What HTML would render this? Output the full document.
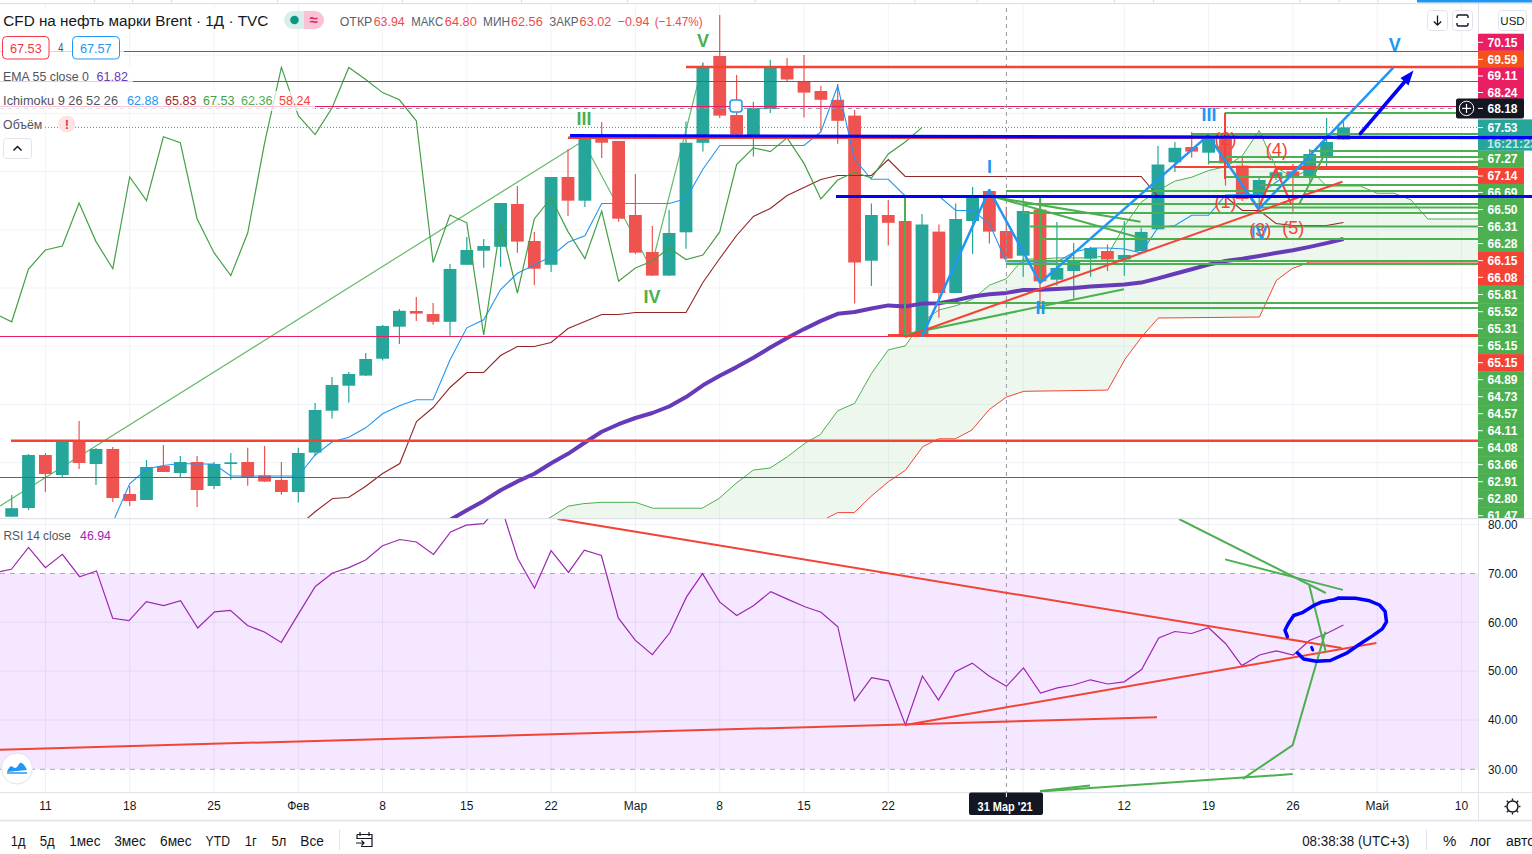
<!DOCTYPE html>
<html><head><meta charset="utf-8"><style>
*{margin:0;padding:0;box-sizing:border-box}
html,body{width:1532px;height:854px;overflow:hidden;background:#fff;font-family:"Liberation Sans",sans-serif;color:#131722}
#wrap{position:relative;width:1532px;height:854px}
svg{position:absolute;left:0;top:0}
.t{position:absolute;white-space:nowrap}
</style></head><body><div id="wrap">

<svg width="1532" height="854" viewBox="0 0 1532 854" style="font-family:'Liberation Sans',sans-serif">
<defs><clipPath id="cm"><rect x="0" y="4" width="1478" height="514"/></clipPath><clipPath id="cax"><rect x="1478" y="4" width="54" height="514"/></clipPath><clipPath id="cr"><rect x="0" y="519" width="1478" height="273"/></clipPath></defs>
<g clip-path="url(#cm)">
<line x1="45.4" y1="0" x2="45.4" y2="518" stroke="#f0f3fa" stroke-width="1"/>
<line x1="129.7" y1="0" x2="129.7" y2="518" stroke="#f0f3fa" stroke-width="1"/>
<line x1="214" y1="0" x2="214" y2="518" stroke="#f0f3fa" stroke-width="1"/>
<line x1="298.3" y1="0" x2="298.3" y2="518" stroke="#f0f3fa" stroke-width="1"/>
<line x1="382.6" y1="0" x2="382.6" y2="518" stroke="#f0f3fa" stroke-width="1"/>
<line x1="466.8" y1="0" x2="466.8" y2="518" stroke="#f0f3fa" stroke-width="1"/>
<line x1="551.1" y1="0" x2="551.1" y2="518" stroke="#f0f3fa" stroke-width="1"/>
<line x1="635.4" y1="0" x2="635.4" y2="518" stroke="#f0f3fa" stroke-width="1"/>
<line x1="719.7" y1="0" x2="719.7" y2="518" stroke="#f0f3fa" stroke-width="1"/>
<line x1="804" y1="0" x2="804" y2="518" stroke="#f0f3fa" stroke-width="1"/>
<line x1="888.3" y1="0" x2="888.3" y2="518" stroke="#f0f3fa" stroke-width="1"/>
<line x1="1023.2" y1="0" x2="1023.2" y2="518" stroke="#f0f3fa" stroke-width="1"/>
<line x1="1124.3" y1="0" x2="1124.3" y2="518" stroke="#f0f3fa" stroke-width="1"/>
<line x1="1208.6" y1="0" x2="1208.6" y2="518" stroke="#f0f3fa" stroke-width="1"/>
<line x1="1292.9" y1="0" x2="1292.9" y2="518" stroke="#f0f3fa" stroke-width="1"/>
<line x1="1377.2" y1="0" x2="1377.2" y2="518" stroke="#f0f3fa" stroke-width="1"/>
<line x1="1461.5" y1="0" x2="1461.5" y2="518" stroke="#f0f3fa" stroke-width="1"/>
<line x1="0" y1="55.2" x2="1478" y2="55.2" stroke="#f0f3fa" stroke-width="1"/>
<line x1="0" y1="113.4" x2="1478" y2="113.4" stroke="#f0f3fa" stroke-width="1"/>
<line x1="0" y1="171.6" x2="1478" y2="171.6" stroke="#f0f3fa" stroke-width="1"/>
<line x1="0" y1="229.8" x2="1478" y2="229.8" stroke="#f0f3fa" stroke-width="1"/>
<line x1="0" y1="288" x2="1478" y2="288" stroke="#f0f3fa" stroke-width="1"/>
<line x1="0" y1="346.2" x2="1478" y2="346.2" stroke="#f0f3fa" stroke-width="1"/>
<line x1="0" y1="404.4" x2="1478" y2="404.4" stroke="#f0f3fa" stroke-width="1"/>
<line x1="0" y1="462.6" x2="1478" y2="462.6" stroke="#f0f3fa" stroke-width="1"/>
<polygon points="545,520 549.8,517.7 568.3,506.1 583.8,503.6 601.8,502.3 635.3,502.3 652.9,508.2 702.3,508.2 719.1,498.4 735.8,483.5 753.3,470.1 770.1,468 787.4,456.7 805.4,443 820.3,434.5 837.6,410.8 854.6,403.4 871.4,373.5 888.3,349.9 905.2,345.9 922,322.2 938.9,309.9 955.7,305.8 972.6,299.2 989.4,285.2 1006.3,278.7 1023.2,259 1040,259 1056.9,257.9 1073.7,257.9 1090.6,257.9 1107.5,255.4 1124.3,225.9 1141.2,202.2 1158,190.5 1174.9,181.1 1191.7,177.2 1208.6,170.5 1225.5,166.7 1242.3,155.7 1259.2,130.6 1276,167.3 1292.9,177.3 1309.7,169.3 1326.6,186 1343.5,186 1360.3,186 1377.2,193.2 1394,193.2 1410.9,199.8 1427.8,219 1444.6,219 1461.5,219 1478.3,219 1478,262 1309.7,262.1 1292.3,268.5 1276.4,280.4 1259.4,317 1158.3,318 1142.4,336 1125.1,359.1 1107.7,390.1 1023.9,391.3 1006.5,397 989.1,409.7 971.7,430.2 955.3,438.8 938.5,438.8 922.7,446.7 905.3,470.4 888.4,481.7 871.1,496.3 854.3,512.6 837.6,512.6 823.4,520 545,520" fill="rgba(76,175,80,0.1)"/>
<polyline points="545,520 823.4,520 837.6,512.6 854.3,512.6 871.1,496.3 888.4,481.7 905.3,470.4 922.7,446.7 938.5,438.8 955.3,438.8 971.7,430.2 989.1,409.7 1006.5,397 1023.9,391.3 1107.7,390.1 1125.1,359.1 1142.4,336 1158.3,318 1259.4,317 1276.4,280.4 1292.3,268.5 1309.7,262.1 1478,262" fill="none" stroke="#f44336" stroke-width="1"/>
<polyline points="545,520 549.8,517.7 568.3,506.1 583.8,503.6 601.8,502.3 635.3,502.3 652.9,508.2 702.3,508.2 719.1,498.4 735.8,483.5 753.3,470.1 770.1,468 787.4,456.7 805.4,443 820.3,434.5 837.6,410.8 854.6,403.4 871.4,373.5 888.3,349.9 905.2,345.9 922,322.2 938.9,309.9 955.7,305.8 972.6,299.2 989.4,285.2 1006.3,278.7 1023.2,259 1040,259 1056.9,257.9 1073.7,257.9 1090.6,257.9 1107.5,255.4 1124.3,225.9 1141.2,202.2 1158,190.5 1174.9,181.1 1191.7,177.2 1208.6,170.5 1225.5,166.7 1242.3,155.7 1259.2,130.6 1276,167.3 1292.9,177.3 1309.7,169.3 1326.6,186 1343.5,186 1360.3,186 1377.2,193.2 1394,193.2 1410.9,199.8 1427.8,219 1444.6,219 1461.5,219 1478.3,219" fill="none" stroke="#4caf50" stroke-width="1"/>
<polyline points="0,506 583,141 651,268 703,63" fill="none" stroke="#66bb6a" stroke-width="1.2"/>
<line x1="11.7" y1="495" x2="11.7" y2="517" stroke="#26a69a" stroke-width="1.2"/>
<rect x="5.3" y="508.2" width="12.8" height="8.5" fill="#26a69a"/>
<line x1="28.5" y1="454" x2="28.5" y2="510" stroke="#26a69a" stroke-width="1.2"/>
<rect x="22.1" y="455" width="12.8" height="53" fill="#26a69a"/>
<line x1="45.4" y1="453" x2="45.4" y2="492" stroke="#ef5350" stroke-width="1.2"/>
<rect x="39" y="455" width="12.8" height="19" fill="#ef5350"/>
<line x1="62.3" y1="440" x2="62.3" y2="477" stroke="#26a69a" stroke-width="1.2"/>
<rect x="55.9" y="441" width="12.8" height="34" fill="#26a69a"/>
<line x1="79.1" y1="421" x2="79.1" y2="469" stroke="#ef5350" stroke-width="1.2"/>
<rect x="72.7" y="441" width="12.8" height="22" fill="#ef5350"/>
<line x1="96" y1="448" x2="96" y2="485" stroke="#26a69a" stroke-width="1.2"/>
<rect x="89.6" y="449" width="12.8" height="15" fill="#26a69a"/>
<line x1="112.8" y1="447" x2="112.8" y2="502" stroke="#ef5350" stroke-width="1.2"/>
<rect x="106.4" y="449" width="12.8" height="49" fill="#ef5350"/>
<line x1="129.7" y1="486" x2="129.7" y2="506" stroke="#ef5350" stroke-width="1.2"/>
<rect x="123.3" y="494" width="12.8" height="7" fill="#ef5350"/>
<line x1="146.5" y1="460" x2="146.5" y2="500" stroke="#26a69a" stroke-width="1.2"/>
<rect x="140.1" y="467" width="12.8" height="33" fill="#26a69a"/>
<line x1="163.4" y1="445" x2="163.4" y2="472" stroke="#ef5350" stroke-width="1.2"/>
<rect x="157" y="466" width="12.8" height="6" fill="#ef5350"/>
<line x1="180.3" y1="456" x2="180.3" y2="477" stroke="#26a69a" stroke-width="1.2"/>
<rect x="173.9" y="462" width="12.8" height="11" fill="#26a69a"/>
<line x1="197.1" y1="456" x2="197.1" y2="507" stroke="#ef5350" stroke-width="1.2"/>
<rect x="190.7" y="462" width="12.8" height="28" fill="#ef5350"/>
<line x1="214" y1="462" x2="214" y2="489" stroke="#26a69a" stroke-width="1.2"/>
<rect x="207.6" y="464" width="12.8" height="22" fill="#26a69a"/>
<line x1="230.8" y1="453" x2="230.8" y2="479.7" stroke="#26a69a" stroke-width="1.2"/>
<rect x="224.4" y="462.3" width="12.8" height="1.7" fill="#26a69a"/>
<line x1="247.7" y1="447.7" x2="247.7" y2="485.7" stroke="#ef5350" stroke-width="1.2"/>
<rect x="241.3" y="462" width="12.8" height="15" fill="#ef5350"/>
<line x1="264.6" y1="446" x2="264.6" y2="482" stroke="#ef5350" stroke-width="1.2"/>
<rect x="258.2" y="475.4" width="12.8" height="6.2" fill="#ef5350"/>
<line x1="281.4" y1="462" x2="281.4" y2="494.8" stroke="#ef5350" stroke-width="1.2"/>
<rect x="275" y="480" width="12.8" height="12" fill="#ef5350"/>
<line x1="298.3" y1="447.7" x2="298.3" y2="502.6" stroke="#26a69a" stroke-width="1.2"/>
<rect x="291.9" y="453" width="12.8" height="39" fill="#26a69a"/>
<line x1="315.1" y1="403" x2="315.1" y2="456" stroke="#26a69a" stroke-width="1.2"/>
<rect x="308.7" y="410" width="12.8" height="42.6" fill="#26a69a"/>
<line x1="332" y1="377" x2="332" y2="418.5" stroke="#26a69a" stroke-width="1.2"/>
<rect x="325.6" y="385" width="12.8" height="25.7" fill="#26a69a"/>
<line x1="348.8" y1="372" x2="348.8" y2="402.6" stroke="#26a69a" stroke-width="1.2"/>
<rect x="342.4" y="374" width="12.8" height="11.7" fill="#26a69a"/>
<line x1="365.7" y1="353" x2="365.7" y2="376" stroke="#26a69a" stroke-width="1.2"/>
<rect x="359.3" y="359" width="12.8" height="16.6" fill="#26a69a"/>
<line x1="382.6" y1="325" x2="382.6" y2="360.6" stroke="#26a69a" stroke-width="1.2"/>
<rect x="376.2" y="326" width="12.8" height="32.7" fill="#26a69a"/>
<line x1="399.4" y1="309" x2="399.4" y2="344" stroke="#26a69a" stroke-width="1.2"/>
<rect x="393" y="310.8" width="12.8" height="15.9" fill="#26a69a"/>
<line x1="416.3" y1="297" x2="416.3" y2="321" stroke="#ef5350" stroke-width="1.2"/>
<rect x="409.9" y="311" width="12.8" height="2.6" fill="#ef5350"/>
<line x1="433.1" y1="303" x2="433.1" y2="324.8" stroke="#ef5350" stroke-width="1.2"/>
<rect x="426.7" y="314" width="12.8" height="7.8" fill="#ef5350"/>
<line x1="450" y1="264" x2="450" y2="335.7" stroke="#26a69a" stroke-width="1.2"/>
<rect x="443.6" y="269" width="12.8" height="52.8" fill="#26a69a"/>
<line x1="466.8" y1="237" x2="466.8" y2="265" stroke="#26a69a" stroke-width="1.2"/>
<rect x="460.4" y="250" width="12.8" height="14.8" fill="#26a69a"/>
<line x1="483.7" y1="239" x2="483.7" y2="267.7" stroke="#26a69a" stroke-width="1.2"/>
<rect x="477.3" y="246" width="12.8" height="4.7" fill="#26a69a"/>
<line x1="500.6" y1="203" x2="500.6" y2="267" stroke="#26a69a" stroke-width="1.2"/>
<rect x="494.2" y="203" width="12.8" height="43.8" fill="#26a69a"/>
<line x1="517.4" y1="186" x2="517.4" y2="252.7" stroke="#ef5350" stroke-width="1.2"/>
<rect x="511" y="204" width="12.8" height="37.6" fill="#ef5350"/>
<line x1="534.3" y1="232" x2="534.3" y2="285" stroke="#ef5350" stroke-width="1.2"/>
<rect x="527.9" y="241" width="12.8" height="27.7" fill="#ef5350"/>
<line x1="551.1" y1="177" x2="551.1" y2="272" stroke="#26a69a" stroke-width="1.2"/>
<rect x="544.7" y="177" width="12.8" height="87.8" fill="#26a69a"/>
<line x1="568" y1="149" x2="568" y2="215.9" stroke="#ef5350" stroke-width="1.2"/>
<rect x="561.6" y="177" width="12.8" height="23.7" fill="#ef5350"/>
<line x1="584.9" y1="136" x2="584.9" y2="206.9" stroke="#26a69a" stroke-width="1.2"/>
<rect x="578.5" y="136.8" width="12.8" height="63.9" fill="#26a69a"/>
<line x1="601.7" y1="122" x2="601.7" y2="157.9" stroke="#ef5350" stroke-width="1.2"/>
<rect x="595.3" y="137.5" width="12.8" height="5.2" fill="#ef5350"/>
<line x1="618.6" y1="141" x2="618.6" y2="221.8" stroke="#ef5350" stroke-width="1.2"/>
<rect x="612.2" y="141" width="12.8" height="77.7" fill="#ef5350"/>
<line x1="635.4" y1="174" x2="635.4" y2="254" stroke="#ef5350" stroke-width="1.2"/>
<rect x="629" y="215" width="12.8" height="37.7" fill="#ef5350"/>
<line x1="652.3" y1="226" x2="652.3" y2="276" stroke="#ef5350" stroke-width="1.2"/>
<rect x="645.9" y="252" width="12.8" height="23.6" fill="#ef5350"/>
<line x1="669.1" y1="210" x2="669.1" y2="276" stroke="#26a69a" stroke-width="1.2"/>
<rect x="662.7" y="233" width="12.8" height="42.6" fill="#26a69a"/>
<line x1="686" y1="121.5" x2="686" y2="248.7" stroke="#26a69a" stroke-width="1.2"/>
<rect x="679.6" y="142.8" width="12.8" height="89.5" fill="#26a69a"/>
<line x1="702.9" y1="62.5" x2="702.9" y2="151.6" stroke="#26a69a" stroke-width="1.2"/>
<rect x="696.5" y="67.4" width="12.8" height="75.4" fill="#26a69a"/>
<line x1="719.7" y1="15" x2="719.7" y2="118" stroke="#ef5350" stroke-width="1.2"/>
<rect x="713.3" y="56" width="12.8" height="59.6" fill="#ef5350"/>
<line x1="736.6" y1="75" x2="736.6" y2="134.6" stroke="#ef5350" stroke-width="1.2"/>
<rect x="730.2" y="115" width="12.8" height="19.6" fill="#ef5350"/>
<line x1="753.4" y1="101.8" x2="753.4" y2="156.6" stroke="#26a69a" stroke-width="1.2"/>
<rect x="747" y="108" width="12.8" height="28" fill="#26a69a"/>
<line x1="770.3" y1="59.8" x2="770.3" y2="113" stroke="#26a69a" stroke-width="1.2"/>
<rect x="763.9" y="67.4" width="12.8" height="41.6" fill="#26a69a"/>
<line x1="787.1" y1="58" x2="787.1" y2="82" stroke="#ef5350" stroke-width="1.2"/>
<rect x="780.7" y="67.4" width="12.8" height="12.1" fill="#ef5350"/>
<line x1="804" y1="55" x2="804" y2="117.5" stroke="#ef5350" stroke-width="1.2"/>
<rect x="797.6" y="81.5" width="12.8" height="11.1" fill="#ef5350"/>
<line x1="820.9" y1="85.7" x2="820.9" y2="131" stroke="#ef5350" stroke-width="1.2"/>
<rect x="814.5" y="91" width="12.8" height="8.8" fill="#ef5350"/>
<line x1="837.7" y1="84" x2="837.7" y2="143.7" stroke="#ef5350" stroke-width="1.2"/>
<rect x="831.3" y="99.8" width="12.8" height="21" fill="#ef5350"/>
<line x1="854.6" y1="110" x2="854.6" y2="303.6" stroke="#ef5350" stroke-width="1.2"/>
<rect x="848.2" y="115.6" width="12.8" height="146.9" fill="#ef5350"/>
<line x1="871.4" y1="203.4" x2="871.4" y2="286" stroke="#26a69a" stroke-width="1.2"/>
<rect x="865" y="215" width="12.8" height="45.7" fill="#26a69a"/>
<line x1="888.3" y1="200" x2="888.3" y2="245.6" stroke="#ef5350" stroke-width="1.2"/>
<rect x="881.9" y="215" width="12.8" height="7.8" fill="#ef5350"/>
<line x1="905.2" y1="221" x2="905.2" y2="337" stroke="#ef5350" stroke-width="1.2"/>
<rect x="898.8" y="221" width="12.8" height="114" fill="#ef5350"/>
<line x1="922" y1="214" x2="922" y2="337" stroke="#26a69a" stroke-width="1.2"/>
<rect x="915.6" y="224.5" width="12.8" height="110.5" fill="#26a69a"/>
<line x1="938.9" y1="224.5" x2="938.9" y2="317.7" stroke="#ef5350" stroke-width="1.2"/>
<rect x="932.5" y="231.6" width="12.8" height="61.4" fill="#ef5350"/>
<line x1="955.7" y1="203.4" x2="955.7" y2="293" stroke="#26a69a" stroke-width="1.2"/>
<rect x="949.3" y="219" width="12.8" height="74" fill="#26a69a"/>
<line x1="972.6" y1="187" x2="972.6" y2="254" stroke="#26a69a" stroke-width="1.2"/>
<rect x="966.2" y="198" width="12.8" height="23" fill="#26a69a"/>
<line x1="989.4" y1="189" x2="989.4" y2="243.4" stroke="#ef5350" stroke-width="1.2"/>
<rect x="983" y="191" width="12.8" height="40.6" fill="#ef5350"/>
<line x1="1006.3" y1="206.7" x2="1006.3" y2="258.6" stroke="#ef5350" stroke-width="1.2"/>
<rect x="999.9" y="231" width="12.8" height="27.6" fill="#ef5350"/>
<line x1="1023.2" y1="196.7" x2="1023.2" y2="276.8" stroke="#26a69a" stroke-width="1.2"/>
<rect x="1016.8" y="211" width="12.8" height="44.7" fill="#26a69a"/>
<line x1="1040" y1="197.8" x2="1040" y2="309" stroke="#ef5350" stroke-width="1.2"/>
<rect x="1033.6" y="209.6" width="12.8" height="71.7" fill="#ef5350"/>
<line x1="1056.9" y1="222" x2="1056.9" y2="285.7" stroke="#26a69a" stroke-width="1.2"/>
<rect x="1050.5" y="268" width="12.8" height="11.7" fill="#26a69a"/>
<line x1="1073.7" y1="243" x2="1073.7" y2="298.6" stroke="#26a69a" stroke-width="1.2"/>
<rect x="1067.3" y="261" width="12.8" height="10" fill="#26a69a"/>
<line x1="1090.6" y1="246.8" x2="1090.6" y2="276.8" stroke="#26a69a" stroke-width="1.2"/>
<rect x="1084.2" y="248" width="12.8" height="10.6" fill="#26a69a"/>
<line x1="1107.5" y1="244.5" x2="1107.5" y2="271" stroke="#ef5350" stroke-width="1.2"/>
<rect x="1101" y="251" width="12.8" height="8.5" fill="#ef5350"/>
<line x1="1124.3" y1="221" x2="1124.3" y2="275.7" stroke="#26a69a" stroke-width="1.2"/>
<rect x="1117.9" y="255" width="12.8" height="4.5" fill="#26a69a"/>
<line x1="1141.2" y1="227.9" x2="1141.2" y2="251" stroke="#26a69a" stroke-width="1.2"/>
<rect x="1134.8" y="231.9" width="12.8" height="19.1" fill="#26a69a"/>
<line x1="1158" y1="146" x2="1158" y2="229.3" stroke="#26a69a" stroke-width="1.2"/>
<rect x="1151.6" y="164.5" width="12.8" height="64.8" fill="#26a69a"/>
<line x1="1174.9" y1="142" x2="1174.9" y2="172" stroke="#26a69a" stroke-width="1.2"/>
<rect x="1168.5" y="147.8" width="12.8" height="14.5" fill="#26a69a"/>
<line x1="1191.7" y1="132" x2="1191.7" y2="157.8" stroke="#ef5350" stroke-width="1.2"/>
<rect x="1185.3" y="147" width="12.8" height="4.6" fill="#ef5350"/>
<line x1="1208.6" y1="135.6" x2="1208.6" y2="164.5" stroke="#26a69a" stroke-width="1.2"/>
<rect x="1202.2" y="137.8" width="12.8" height="14.9" fill="#26a69a"/>
<line x1="1225.5" y1="113.3" x2="1225.5" y2="185.6" stroke="#ef5350" stroke-width="1.2"/>
<rect x="1219.1" y="136.7" width="12.8" height="26.7" fill="#ef5350"/>
<line x1="1242.3" y1="156.7" x2="1242.3" y2="201" stroke="#ef5350" stroke-width="1.2"/>
<rect x="1235.9" y="165.6" width="12.8" height="33.4" fill="#ef5350"/>
<line x1="1259.2" y1="178" x2="1259.2" y2="203.4" stroke="#26a69a" stroke-width="1.2"/>
<rect x="1252.8" y="180" width="12.8" height="17.9" fill="#26a69a"/>
<line x1="1276" y1="169" x2="1276" y2="180" stroke="#26a69a" stroke-width="1.2"/>
<rect x="1269.6" y="172.3" width="12.8" height="4.4" fill="#26a69a"/>
<line x1="1292.9" y1="164" x2="1292.9" y2="211.7" stroke="#ef5350" stroke-width="1.2"/>
<rect x="1286.5" y="171.3" width="12.8" height="6.7" fill="#ef5350"/>
<line x1="1309.7" y1="149" x2="1309.7" y2="181.5" stroke="#26a69a" stroke-width="1.2"/>
<rect x="1303.3" y="154" width="12.8" height="24" fill="#26a69a"/>
<line x1="1326.6" y1="118" x2="1326.6" y2="166" stroke="#26a69a" stroke-width="1.2"/>
<rect x="1320.2" y="142" width="12.8" height="14" fill="#26a69a"/>
<line x1="1343.5" y1="121.8" x2="1343.5" y2="139.6" stroke="#26a69a" stroke-width="1.2"/>
<rect x="1337.1" y="127.4" width="12.8" height="12.2" fill="#26a69a"/>
<polyline points="450,519.9 466.8,510.3 483.7,500.9 500.6,490.3 517.4,481.4 534.3,473.8 551.1,463.2 568,453.8 584.9,442.5 601.7,431.8 618.6,424.2 635.4,418 652.3,413 669.1,406.5 686,397.1 702.9,385.3 719.7,375.7 736.6,367.1 753.4,357.8 770.3,347.5 787.1,337.9 804,329.1 820.9,320.9 837.7,313.8 854.6,312 871.4,308.5 888.3,305.4 905.2,306.5 922,303.6 938.9,303.2 955.7,300.2 972.6,296.5 989.4,294.2 1006.3,292.9 1023.2,290 1040,289.7 1056.9,288.9 1073.7,287.9 1090.6,286.5 1107.5,285.5 1124.3,284.5 1141.2,282.6 1158,278.4 1174.9,273.7 1191.7,269.3 1208.6,264.6 1225.5,261 1242.3,258.8 1259.2,256 1276,253 1292.9,250.3 1309.7,246.9 1326.6,243.1 1343.5,239" fill="none" stroke="#673ab7" stroke-width="4" stroke-linejoin="round"/>
<polyline points="304.8,520.5 315.4,511.5 332.6,498.5 348.5,497.5 365.4,486.5 382.6,473.5 399.8,463.5 416.5,421.5 433.1,407.5 450,387.5 466.8,372.5 483.7,372.5 500.6,355.5 517.4,346.5 534.3,346.5 551.1,342.5 568,328.5 584.9,321.5 601.7,314.5 618.6,314.5 635.4,312.5 652.3,312.5 669.1,312.5 686,312.5 702.9,282.5 719.7,258.5 736.6,235.5 753.4,216.5 770.3,208.5 787.1,195.5 804,187.5 820.9,179.5 837.7,175.5 854.6,175.5 871.4,175.5 888.3,159.5 905.2,176.5 922,176.5 938.9,176.5 955.7,176.5 972.6,176.5 989.4,176.5 1006.3,176.5 1023.2,176.5 1040,176.5 1056.9,176.5 1073.7,176.5 1090.6,176.5 1107.5,176.5 1124.3,176.5 1141.2,176.5 1158,196.5 1174.9,196.5 1191.7,196.5 1208.6,196.5 1225.5,196.5 1242.3,210.5 1259.2,210.5 1276,223.5 1292.9,225.5 1309.7,225.5 1326.6,225.5 1343.5,222.5" fill="none" stroke="#922525" stroke-width="1.1"/>
<polyline points="113.8,520 129.7,483.9 146.5,469 163.4,465.5 180.3,463.5 197.1,464 214,464 230.8,476 247.7,476 264.6,476 281.4,476 298.3,476 315.1,455 332,442 348.8,437.3 365.7,427.8 382.6,413.8 399.4,405.8 416.3,399.8 433.1,399.8 450,360 466.8,327.8 483.7,319.8 500.6,289.5 517.4,273.3 534.3,265 551.1,256.4 568,242.3 584.9,235.8 601.7,203.5 618.6,203.5 635.4,203.5 652.3,203.5 669.1,203.5 686,198.8 702.9,169.2 719.7,145.5 736.6,145.5 753.4,145.5 770.3,145.5 787.1,145.5 804,145.5 820.9,131.8 837.7,85.8 854.6,159.3 871.4,179.3 888.3,179.3 905.2,196 922,196 938.9,196 955.7,210.5 972.6,210.5 989.4,223.5 1006.3,262 1023.2,262 1040,262 1056.9,262 1073.7,252.3 1090.6,248 1107.5,248 1124.3,249 1141.2,252.8 1158,227.5 1174.9,225.5 1191.7,215.3 1208.6,215.3 1225.5,195.1 1242.3,194.5 1259.2,194.5 1276,182.2 1292.9,171.3 1309.7,162.5 1326.6,162.5 1343.5,162.5" fill="none" stroke="#2196f3" stroke-width="1.1"/>
<polyline points="-5.2,313.6 11.7,321.8 28.5,269 45.4,250 62.3,246 79.1,203 96,241.6 112.8,268.7 129.7,177 146.5,200.7 163.4,136.8 180.3,142.7 197.1,218.7 214,252.7 230.8,275.6 247.7,233 264.6,142.8 281.4,67.4 298.3,115.6 315.1,134.6 332,108 348.8,67.4 365.7,79.5 382.6,92.6 399.4,99.8 416.3,120.8 433.1,262.5 450,215 466.8,222.8 483.7,335 500.6,224.5 517.4,293 534.3,219 551.1,198 568,231.6 584.9,258.6 601.7,211 618.6,281.3 635.4,268 652.3,261 669.1,248 686,259.5 702.9,255 719.7,231.9 736.6,164.5 753.4,147.8 770.3,151.6 787.1,137.8 804,163.4 820.9,199 837.7,180 854.6,172.3 871.4,178 888.3,154 905.2,142 922,127.4" fill="none" stroke="#43a047" stroke-width="1.2"/>
</g>
<g clip-path="url(#cm)">
<line x1="0" y1="51.5" x2="1478" y2="51.5" stroke="#e91e63" stroke-width="1.1"/>
<line x1="0" y1="81.5" x2="1478" y2="81.5" stroke="#e91e63" stroke-width="1.1"/>
<line x1="0" y1="106.5" x2="1478" y2="106.5" stroke="#e91e63" stroke-width="1.1"/>
<line x1="0" y1="336.5" x2="1478" y2="336.5" stroke="#e91e63" stroke-width="1.1"/>
<line x1="0" y1="477.5" x2="1478" y2="477.5" stroke="#e91e63" stroke-width="1.1"/>
<line x1="0" y1="108.5" x2="1456" y2="108.5" stroke="#9598a1" stroke-width="1" stroke-dasharray="4,4"/>
<line x1="1006.4" y1="0" x2="1006.4" y2="792" stroke="#9598a1" stroke-width="1" stroke-dasharray="4,4"/>
<line x1="0" y1="127.4" x2="1478" y2="127.4" stroke="#26a69a" stroke-width="1" stroke-dasharray="1,2"/>
<line x1="1224.7" y1="113" x2="1456" y2="113" stroke="#4caf50" stroke-width="2.2"/>
<line x1="1191" y1="134" x2="1478" y2="134" stroke="#4caf50" stroke-width="2.2"/>
<line x1="1309.5" y1="151" x2="1478" y2="151" stroke="#4caf50" stroke-width="2.2"/>
<line x1="1226" y1="157" x2="1478" y2="157" stroke="#4caf50" stroke-width="2.2"/>
<line x1="1208" y1="162" x2="1478" y2="162" stroke="#4caf50" stroke-width="2.2"/>
<line x1="1226" y1="177" x2="1478" y2="177" stroke="#4caf50" stroke-width="2.2"/>
<line x1="1259" y1="185" x2="1478" y2="185" stroke="#4caf50" stroke-width="2.2"/>
<line x1="1006" y1="191" x2="1478" y2="191" stroke="#4caf50" stroke-width="2.2"/>
<line x1="1023" y1="204" x2="1478" y2="204" stroke="#4caf50" stroke-width="2.2"/>
<line x1="1260" y1="207.5" x2="1478" y2="207.5" stroke="#4caf50" stroke-width="2.2"/>
<line x1="1023" y1="213" x2="1478" y2="213" stroke="#4caf50" stroke-width="2.2"/>
<line x1="1030" y1="226.5" x2="1478" y2="226.5" stroke="#4caf50" stroke-width="2.2"/>
<line x1="1040" y1="239" x2="1478" y2="239" stroke="#4caf50" stroke-width="2.2"/>
<line x1="1007" y1="261" x2="1478" y2="261" stroke="#4caf50" stroke-width="2.2"/>
<line x1="1006" y1="264" x2="1478" y2="264" stroke="#4caf50" stroke-width="2.2"/>
<line x1="938" y1="303" x2="1478" y2="303" stroke="#4caf50" stroke-width="2.2"/>
<line x1="1040" y1="308" x2="1478" y2="308" stroke="#4caf50" stroke-width="2.2"/>
<line x1="686" y1="67" x2="1478" y2="67" stroke="#f44336" stroke-width="2.5"/>
<line x1="568" y1="137.8" x2="1478" y2="137.8" stroke="#f44336" stroke-width="2.5"/>
<line x1="1174" y1="167" x2="1478" y2="167" stroke="#f44336" stroke-width="2.2"/>
<line x1="1275.7" y1="168" x2="1478" y2="168" stroke="#f44336" stroke-width="3.8"/>
<line x1="888" y1="335.4" x2="1478" y2="335.4" stroke="#f44336" stroke-width="3"/>
<line x1="11" y1="440.8" x2="1478" y2="440.8" stroke="#f44336" stroke-width="2.5"/>
<line x1="905" y1="197" x2="905" y2="335" stroke="#4caf50" stroke-width="2"/>
<line x1="1040.2" y1="198" x2="1040.2" y2="283" stroke="#4caf50" stroke-width="2"/>
<line x1="905" y1="334.4" x2="1123.9" y2="289.3" stroke="#4caf50" stroke-width="2"/>
<line x1="996.6" y1="197.6" x2="1140.5" y2="221.8" stroke="#4caf50" stroke-width="2"/>
<line x1="996.6" y1="197.6" x2="1140.5" y2="238" stroke="#4caf50" stroke-width="2"/>
<line x1="1298.7" y1="205.1" x2="1326.1" y2="151.2" stroke="#4caf50" stroke-width="2"/>
<line x1="905" y1="337" x2="1342.4" y2="181.7" stroke="#f44336" stroke-width="2"/>
<polyline points="1225.3,159.8 1258,209 1275.7,168.9 1291.4,204.5" fill="none" stroke="#f44336" stroke-width="2"/>
<line x1="1225" y1="113" x2="1225" y2="179" stroke="#f44336" stroke-width="2"/>
<polyline points="921.7,337 989.3,190 1040.1,282.8 1207.9,135.6 1259,209 1393.3,67.7" fill="none" stroke="#2196f3" stroke-width="2.5" stroke-linejoin="round"/>
<line x1="1360.3" y1="133.6" x2="1404.5" y2="82" stroke="#0000ff" stroke-width="3.6" stroke-linecap="round"/>
<polygon points="1413.5,70.5 1400.5,78 1408.5,85.5" fill="#0000ff"/>
<rect x="730" y="100" width="12" height="12" rx="3" fill="#fff" stroke="#2196f3" stroke-width="1.5"/>
<text x="584" y="125" fill="#4caf50" font-size="18" text-anchor="middle" font-weight="bold">III</text>
<text x="703" y="47" fill="#4caf50" font-size="18" text-anchor="middle" font-weight="bold">V</text>
<text x="652" y="303" fill="#4caf50" font-size="18" text-anchor="middle" font-weight="bold">IV</text>
<text x="989.6" y="173" fill="#2196f3" font-size="18" text-anchor="middle" font-weight="bold">I</text>
<text x="1040.4" y="314" fill="#2196f3" font-size="18" text-anchor="middle" font-weight="bold">II</text>
<text x="1209" y="121" fill="#2196f3" font-size="18" text-anchor="middle" font-weight="bold">III</text>
<text x="1259" y="239" fill="#2196f3" font-size="18" text-anchor="middle" font-weight="bold">IV</text>
<text x="1394.8" y="51" fill="#2196f3" font-size="18" text-anchor="middle" font-weight="bold">V</text>
<text x="1225.6" y="144.5" fill="#f44336" font-size="18" text-anchor="middle" font-weight="normal">(2)</text>
<text x="1225.6" y="207.5" fill="#f44336" font-size="18" text-anchor="middle" font-weight="normal">(1)</text>
<text x="1260.3" y="236" fill="#f44336" font-size="18" text-anchor="middle" font-weight="normal">(3)</text>
<text x="1276.8" y="155.5" fill="#f44336" font-size="18" text-anchor="middle" font-weight="normal">(4)</text>
<text x="1293.2" y="234" fill="#f44336" font-size="18" text-anchor="middle" font-weight="normal">(5)</text>
</g>
<g clip-path="url(#cax)">
<rect x="1478" y="33.7" width="46" height="17.2" fill="#e91e63"/>
<rect x="1478" y="50.7" width="46" height="17.2" fill="#f4511e"/>
<rect x="1478" y="67.4" width="46" height="17.2" fill="#e91e63"/>
<rect x="1478" y="83.9" width="46" height="17.2" fill="#e91e63"/>
<rect x="1478" y="150.4" width="46" height="17.2" fill="#4caf50"/>
<rect x="1478" y="167.4" width="46" height="17.2" fill="#f44336"/>
<rect x="1478" y="183.8" width="46" height="17.2" fill="#4caf50"/>
<rect x="1478" y="201" width="46" height="17.2" fill="#4caf50"/>
<rect x="1478" y="217.9" width="46" height="17.2" fill="#4caf50"/>
<rect x="1478" y="235" width="46" height="17.2" fill="#4caf50"/>
<rect x="1478" y="252" width="46" height="17.2" fill="#f44336"/>
<rect x="1478" y="268.7" width="46" height="17.2" fill="#f44336"/>
<rect x="1478" y="285.9" width="46" height="17.2" fill="#4caf50"/>
<rect x="1478" y="303.1" width="46" height="17.2" fill="#4caf50"/>
<rect x="1478" y="320.1" width="46" height="17.2" fill="#4caf50"/>
<rect x="1478" y="337.1" width="46" height="17.2" fill="#4caf50"/>
<rect x="1478" y="354.1" width="46" height="17.2" fill="#f44336"/>
<rect x="1478" y="371.1" width="46" height="17.2" fill="#4caf50"/>
<rect x="1478" y="388.1" width="46" height="17.2" fill="#4caf50"/>
<rect x="1478" y="405.1" width="46" height="17.2" fill="#4caf50"/>
<rect x="1478" y="422.1" width="46" height="17.2" fill="#4caf50"/>
<rect x="1478" y="439.1" width="46" height="17.2" fill="#4caf50"/>
<rect x="1478" y="456.1" width="46" height="17.2" fill="#4caf50"/>
<rect x="1478" y="473.1" width="46" height="17.2" fill="#4caf50"/>
<rect x="1478" y="490.1" width="46" height="17.2" fill="#4caf50"/>
<rect x="1478" y="507.1" width="46" height="17.2" fill="#4caf50"/>
<line x1="1478" y1="42.3" x2="1483" y2="42.3" stroke="#fff" stroke-width="1"/>
<text x="1487.5" y="46.6" fill="#fff" font-size="12" font-weight="bold" textLength="30" lengthAdjust="spacingAndGlyphs">70.15</text>
<line x1="1478" y1="59.3" x2="1483" y2="59.3" stroke="#fff" stroke-width="1"/>
<text x="1487.5" y="63.6" fill="#fff" font-size="12" font-weight="bold" textLength="30" lengthAdjust="spacingAndGlyphs">69.59</text>
<line x1="1478" y1="76" x2="1483" y2="76" stroke="#fff" stroke-width="1"/>
<text x="1487.5" y="80.3" fill="#fff" font-size="12" font-weight="bold" textLength="30" lengthAdjust="spacingAndGlyphs">69.11</text>
<line x1="1478" y1="92.5" x2="1483" y2="92.5" stroke="#fff" stroke-width="1"/>
<text x="1487.5" y="96.8" fill="#fff" font-size="12" font-weight="bold" textLength="30" lengthAdjust="spacingAndGlyphs">68.24</text>
<line x1="1478" y1="159" x2="1483" y2="159" stroke="#fff" stroke-width="1"/>
<text x="1487.5" y="163.3" fill="#fff" font-size="12" font-weight="bold" textLength="30" lengthAdjust="spacingAndGlyphs">67.27</text>
<line x1="1478" y1="176" x2="1483" y2="176" stroke="#fff" stroke-width="1"/>
<text x="1487.5" y="180.3" fill="#fff" font-size="12" font-weight="bold" textLength="30" lengthAdjust="spacingAndGlyphs">67.14</text>
<line x1="1478" y1="192.4" x2="1483" y2="192.4" stroke="#fff" stroke-width="1"/>
<text x="1487.5" y="196.7" fill="#fff" font-size="12" font-weight="bold" textLength="30" lengthAdjust="spacingAndGlyphs">66.69</text>
<line x1="1478" y1="209.6" x2="1483" y2="209.6" stroke="#fff" stroke-width="1"/>
<text x="1487.5" y="213.9" fill="#fff" font-size="12" font-weight="bold" textLength="30" lengthAdjust="spacingAndGlyphs">66.50</text>
<line x1="1478" y1="226.5" x2="1483" y2="226.5" stroke="#fff" stroke-width="1"/>
<text x="1487.5" y="230.8" fill="#fff" font-size="12" font-weight="bold" textLength="30" lengthAdjust="spacingAndGlyphs">66.31</text>
<line x1="1478" y1="243.6" x2="1483" y2="243.6" stroke="#fff" stroke-width="1"/>
<text x="1487.5" y="247.9" fill="#fff" font-size="12" font-weight="bold" textLength="30" lengthAdjust="spacingAndGlyphs">66.28</text>
<line x1="1478" y1="260.6" x2="1483" y2="260.6" stroke="#fff" stroke-width="1"/>
<text x="1487.5" y="264.9" fill="#fff" font-size="12" font-weight="bold" textLength="30" lengthAdjust="spacingAndGlyphs">66.15</text>
<line x1="1478" y1="277.3" x2="1483" y2="277.3" stroke="#fff" stroke-width="1"/>
<text x="1487.5" y="281.6" fill="#fff" font-size="12" font-weight="bold" textLength="30" lengthAdjust="spacingAndGlyphs">66.08</text>
<line x1="1478" y1="294.5" x2="1483" y2="294.5" stroke="#fff" stroke-width="1"/>
<text x="1487.5" y="298.8" fill="#fff" font-size="12" font-weight="bold" textLength="30" lengthAdjust="spacingAndGlyphs">65.81</text>
<line x1="1478" y1="311.7" x2="1483" y2="311.7" stroke="#fff" stroke-width="1"/>
<text x="1487.5" y="316" fill="#fff" font-size="12" font-weight="bold" textLength="30" lengthAdjust="spacingAndGlyphs">65.52</text>
<line x1="1478" y1="328.7" x2="1483" y2="328.7" stroke="#fff" stroke-width="1"/>
<text x="1487.5" y="333" fill="#fff" font-size="12" font-weight="bold" textLength="30" lengthAdjust="spacingAndGlyphs">65.31</text>
<line x1="1478" y1="345.7" x2="1483" y2="345.7" stroke="#fff" stroke-width="1"/>
<text x="1487.5" y="350" fill="#fff" font-size="12" font-weight="bold" textLength="30" lengthAdjust="spacingAndGlyphs">65.15</text>
<line x1="1478" y1="362.7" x2="1483" y2="362.7" stroke="#fff" stroke-width="1"/>
<text x="1487.5" y="367" fill="#fff" font-size="12" font-weight="bold" textLength="30" lengthAdjust="spacingAndGlyphs">65.15</text>
<line x1="1478" y1="379.7" x2="1483" y2="379.7" stroke="#fff" stroke-width="1"/>
<text x="1487.5" y="384" fill="#fff" font-size="12" font-weight="bold" textLength="30" lengthAdjust="spacingAndGlyphs">64.89</text>
<line x1="1478" y1="396.7" x2="1483" y2="396.7" stroke="#fff" stroke-width="1"/>
<text x="1487.5" y="401" fill="#fff" font-size="12" font-weight="bold" textLength="30" lengthAdjust="spacingAndGlyphs">64.73</text>
<line x1="1478" y1="413.7" x2="1483" y2="413.7" stroke="#fff" stroke-width="1"/>
<text x="1487.5" y="418" fill="#fff" font-size="12" font-weight="bold" textLength="30" lengthAdjust="spacingAndGlyphs">64.57</text>
<line x1="1478" y1="430.7" x2="1483" y2="430.7" stroke="#fff" stroke-width="1"/>
<text x="1487.5" y="435" fill="#fff" font-size="12" font-weight="bold" textLength="30" lengthAdjust="spacingAndGlyphs">64.11</text>
<line x1="1478" y1="447.7" x2="1483" y2="447.7" stroke="#fff" stroke-width="1"/>
<text x="1487.5" y="452" fill="#fff" font-size="12" font-weight="bold" textLength="30" lengthAdjust="spacingAndGlyphs">64.08</text>
<line x1="1478" y1="464.7" x2="1483" y2="464.7" stroke="#fff" stroke-width="1"/>
<text x="1487.5" y="469" fill="#fff" font-size="12" font-weight="bold" textLength="30" lengthAdjust="spacingAndGlyphs">63.66</text>
<line x1="1478" y1="481.7" x2="1483" y2="481.7" stroke="#fff" stroke-width="1"/>
<text x="1487.5" y="486" fill="#fff" font-size="12" font-weight="bold" textLength="30" lengthAdjust="spacingAndGlyphs">62.91</text>
<line x1="1478" y1="498.7" x2="1483" y2="498.7" stroke="#fff" stroke-width="1"/>
<text x="1487.5" y="503" fill="#fff" font-size="12" font-weight="bold" textLength="30" lengthAdjust="spacingAndGlyphs">62.80</text>
<line x1="1478" y1="515.7" x2="1483" y2="515.7" stroke="#fff" stroke-width="1"/>
<text x="1487.5" y="520" fill="#fff" font-size="12" font-weight="bold" textLength="30" lengthAdjust="spacingAndGlyphs">61.47</text>
</g>
<rect x="1456" y="98.4" width="68" height="20" rx="2" fill="#131722"/>
<circle cx="1466.5" cy="108.4" r="7.2" fill="none" stroke="#fff" stroke-width="1"/><line x1="1462" y1="108.4" x2="1471" y2="108.4" stroke="#fff" stroke-width="1.2"/><line x1="1466.5" y1="103.9" x2="1466.5" y2="112.9" stroke="#fff" stroke-width="1.2"/>
<line x1="1478" y1="108.4" x2="1483" y2="108.4" stroke="#fff" stroke-width="1"/>
<text x="1487.5" y="112.7" fill="#fff" font-size="12" font-weight="bold" textLength="30" lengthAdjust="spacingAndGlyphs">68.18</text>
<rect x="1478" y="119.4" width="54" height="31.2" fill="#26a69a"/>
<line x1="1478" y1="127.6" x2="1483" y2="127.6" stroke="#fff" stroke-width="1"/>
<text x="1487.5" y="131.9" fill="#fff" font-size="12" font-weight="bold" textLength="30" lengthAdjust="spacingAndGlyphs">67.53</text>
<text x="1487" y="148" fill="#bfe6e2" font-size="12.5" font-weight="bold">16:21:23</text>
<line x1="570" y1="135.6" x2="1532" y2="137.6" stroke="#0000ff" stroke-width="3.2"/>
<line x1="836" y1="196.5" x2="1532" y2="196.5" stroke="#0000ff" stroke-width="3.2"/>
<g clip-path="url(#cr)">
<line x1="45.4" y1="519" x2="45.4" y2="792" stroke="#eef0f5" stroke-width="1"/>
<line x1="129.7" y1="519" x2="129.7" y2="792" stroke="#eef0f5" stroke-width="1"/>
<line x1="214" y1="519" x2="214" y2="792" stroke="#eef0f5" stroke-width="1"/>
<line x1="298.3" y1="519" x2="298.3" y2="792" stroke="#eef0f5" stroke-width="1"/>
<line x1="382.6" y1="519" x2="382.6" y2="792" stroke="#eef0f5" stroke-width="1"/>
<line x1="466.8" y1="519" x2="466.8" y2="792" stroke="#eef0f5" stroke-width="1"/>
<line x1="551.1" y1="519" x2="551.1" y2="792" stroke="#eef0f5" stroke-width="1"/>
<line x1="635.4" y1="519" x2="635.4" y2="792" stroke="#eef0f5" stroke-width="1"/>
<line x1="719.7" y1="519" x2="719.7" y2="792" stroke="#eef0f5" stroke-width="1"/>
<line x1="804" y1="519" x2="804" y2="792" stroke="#eef0f5" stroke-width="1"/>
<line x1="888.3" y1="519" x2="888.3" y2="792" stroke="#eef0f5" stroke-width="1"/>
<line x1="1023.2" y1="519" x2="1023.2" y2="792" stroke="#eef0f5" stroke-width="1"/>
<line x1="1124.3" y1="519" x2="1124.3" y2="792" stroke="#eef0f5" stroke-width="1"/>
<line x1="1208.6" y1="519" x2="1208.6" y2="792" stroke="#eef0f5" stroke-width="1"/>
<line x1="1292.9" y1="519" x2="1292.9" y2="792" stroke="#eef0f5" stroke-width="1"/>
<line x1="1377.2" y1="519" x2="1377.2" y2="792" stroke="#eef0f5" stroke-width="1"/>
<line x1="1461.5" y1="519" x2="1461.5" y2="792" stroke="#eef0f5" stroke-width="1"/>
<line x1="0" y1="524.3" x2="1478" y2="524.3" stroke="#eef0f5" stroke-width="1"/>
<line x1="0" y1="622.2" x2="1478" y2="622.2" stroke="#eef0f5" stroke-width="1"/>
<line x1="0" y1="671.1" x2="1478" y2="671.1" stroke="#eef0f5" stroke-width="1"/>
<line x1="0" y1="720" x2="1478" y2="720" stroke="#eef0f5" stroke-width="1"/>
<rect x="0" y="573.5" width="1478" height="195.8" fill="rgba(153,21,255,0.1)"/>
<line x1="1006.4" y1="519" x2="1006.4" y2="792" stroke="#9598a1" stroke-width="1" stroke-dasharray="4,4"/>
<line x1="0" y1="573.5" x2="1478" y2="573.5" stroke="#aaa9b0" stroke-width="1" stroke-dasharray="5,5"/>
<line x1="0" y1="769.3" x2="1478" y2="769.3" stroke="#aaa9b0" stroke-width="1" stroke-dasharray="5,5"/>
<polyline points="0,571.7 11.4,569.3 28.5,547.4 45.4,567.7 62.4,554.4 79.6,576.7 96.5,570.9 112.7,618.3 129,620.7 146.3,601.7 163.7,605.6 180.6,600.6 197.7,628 214.6,611.8 230.4,610.3 247.5,625.5 264.4,632 281.3,642.4 298.6,613.6 315.3,586.5 332.6,573 348.9,567.6 365.6,560 382.5,545.8 399.9,539.5 416.4,542 433.5,554.4 450.6,531.9 466.2,525.2 483.6,523.7 500.6,505 517.6,558.3 534.5,588.2 551.1,550.7 568.5,572.4 584.3,550.1 601.4,555.5 618.3,617.9 635.2,640.2 652.3,654.7 669.6,633 686.5,596.9 702.5,573.6 719.6,601.9 736.7,615.5 753.4,605.8 770.8,591.6 787.9,599.4 804.9,606.8 821,612.2 837.8,626.7 854.5,700.8 871.6,677.6 888.6,680.8 905.4,724.9 922.4,676 938.5,700.1 955.3,671.8 972.3,663.1 989,676 1006.4,686.3 1023.5,667.9 1040.5,693 1057.3,687.9 1073.4,685 1090.4,679.8 1107.8,684 1124.2,681.8 1141.6,669.5 1158.7,638 1174.8,631.5 1191.5,633.5 1208.6,627.7 1225.7,643.7 1241.8,665.6 1259.5,655 1276.6,650.8 1293.3,655 1309.4,640.5 1325.5,634 1343.4,625" fill="none" stroke="#9c27b0" stroke-width="1.2"/>
<line x1="557.6" y1="518.9" x2="1341.6" y2="647.9" stroke="#f44336" stroke-width="2"/>
<line x1="0" y1="749.8" x2="1157" y2="717.3" stroke="#f44336" stroke-width="2"/>
<line x1="905.4" y1="724.9" x2="1376.4" y2="643.1" stroke="#f44336" stroke-width="2"/>
<line x1="1040" y1="791" x2="1090" y2="785.5" stroke="#4caf50" stroke-width="2"/>
<line x1="1179" y1="519" x2="1325.8" y2="593" stroke="#4caf50" stroke-width="2"/>
<line x1="1225.1" y1="559.4" x2="1342.9" y2="589.9" stroke="#4caf50" stroke-width="2"/>
<line x1="1309.2" y1="585.3" x2="1326" y2="652.8" stroke="#4caf50" stroke-width="2"/>
<line x1="1040" y1="791.5" x2="1292.7" y2="774.1" stroke="#4caf50" stroke-width="2"/>
<polyline points="1242.8,778.9 1292.7,745.1 1325.4,631.7" fill="none" stroke="#4caf50" stroke-width="2"/>
<polyline points="1287.4,636.6 1285,630.3 1288.1,624 1293.7,615.5 1302.2,612.7 1313.4,605.7 1321.9,601.9 1333.1,600.1 1338.7,598 1355.6,598.2 1369.6,600.8 1379.5,605 1385.1,611.3 1386.5,621.9 1382.3,628.9 1372.5,635.9 1358.4,645 1347.2,652.8 1330.3,660.5 1316.2,661.2 1303.6,659.1 1297.3,652.8" fill="none" stroke="#0000ff" stroke-width="3.5" stroke-linejoin="round" stroke-linecap="round"/>
<line x1="1311.6" y1="647.3" x2="1312.7" y2="650" stroke="#0000ff" stroke-width="3" stroke-linecap="round"/>
</g>
<rect x="0" y="518" width="1532" height="1.2" fill="#dfe1e8"/>
<line x1="1478.5" y1="0" x2="1478.5" y2="34" stroke="#e0e3eb" stroke-width="1"/>
<line x1="1478.5" y1="519" x2="1478.5" y2="820" stroke="#e0e3eb" stroke-width="1"/>
<line x1="0" y1="792.5" x2="1532" y2="792.5" stroke="#e0e3eb" stroke-width="1"/>
<line x1="0" y1="820.5" x2="1532" y2="820.5" stroke="#e0e3eb" stroke-width="1.5"/>
<rect x="0" y="3" width="1532" height="1.2" fill="#dfe2ea"/>
<rect x="93.9" y="0" width="1.2" height="3" fill="#dfe2ea"/>
<rect x="131.9" y="0" width="1.2" height="3" fill="#dfe2ea"/>
<rect x="170.9" y="0" width="1.2" height="3" fill="#dfe2ea"/>
<rect x="276.9" y="0" width="1.2" height="3" fill="#dfe2ea"/>
<rect x="401.9" y="0" width="1.2" height="3" fill="#dfe2ea"/>
<rect x="520.9" y="0" width="1.2" height="3" fill="#dfe2ea"/>
<rect x="626.9" y="0" width="1.2" height="3" fill="#dfe2ea"/>
<rect x="754.4" y="0" width="1.2" height="3" fill="#dfe2ea"/>
<rect x="914.1999999999999" y="0" width="1.2" height="3" fill="#dfe2ea"/>
<rect x="976.6999999999999" y="0" width="1.2" height="3" fill="#dfe2ea"/>
<rect x="1113.9" y="0" width="1.2" height="3" fill="#dfe2ea"/>
<rect x="1152.9" y="0" width="1.2" height="3" fill="#dfe2ea"/>
<rect x="1299.4" y="0" width="1.2" height="3" fill="#dfe2ea"/>
<rect x="1338.4" y="0" width="1.2" height="3" fill="#dfe2ea"/>
<rect x="1377.4" y="0" width="1.2" height="3" fill="#dfe2ea"/>
<rect x="1417" y="0" width="115" height="2.5" fill="#2196f3"/>
<text x="1488" y="528.5999999999999" fill="#131722" font-size="12" textLength="29.5" lengthAdjust="spacingAndGlyphs">80.00</text>
<text x="1488" y="577.8" fill="#131722" font-size="12" textLength="29.5" lengthAdjust="spacingAndGlyphs">70.00</text>
<text x="1488" y="626.5" fill="#131722" font-size="12" textLength="29.5" lengthAdjust="spacingAndGlyphs">60.00</text>
<text x="1488" y="675.4" fill="#131722" font-size="12" textLength="29.5" lengthAdjust="spacingAndGlyphs">50.00</text>
<text x="1488" y="724.3" fill="#131722" font-size="12" textLength="29.5" lengthAdjust="spacingAndGlyphs">40.00</text>
<text x="1488" y="773.5999999999999" fill="#131722" font-size="12" textLength="29.5" lengthAdjust="spacingAndGlyphs">30.00</text>
<text x="45.4" y="810" fill="#131722" font-size="12" text-anchor="middle" font-weight="normal">11</text>
<text x="129.7" y="810" fill="#131722" font-size="12" text-anchor="middle" font-weight="normal">18</text>
<text x="214" y="810" fill="#131722" font-size="12" text-anchor="middle" font-weight="normal">25</text>
<text x="298.3" y="810" fill="#131722" font-size="12" text-anchor="middle" font-weight="normal">Фев</text>
<text x="382.6" y="810" fill="#131722" font-size="12" text-anchor="middle" font-weight="normal">8</text>
<text x="466.8" y="810" fill="#131722" font-size="12" text-anchor="middle" font-weight="normal">15</text>
<text x="551.1" y="810" fill="#131722" font-size="12" text-anchor="middle" font-weight="normal">22</text>
<text x="635.4" y="810" fill="#131722" font-size="12" text-anchor="middle" font-weight="normal">Мар</text>
<text x="719.7" y="810" fill="#131722" font-size="12" text-anchor="middle" font-weight="normal">8</text>
<text x="804" y="810" fill="#131722" font-size="12" text-anchor="middle" font-weight="normal">15</text>
<text x="888.3" y="810" fill="#131722" font-size="12" text-anchor="middle" font-weight="normal">22</text>
<text x="1124.3" y="810" fill="#131722" font-size="12" text-anchor="middle" font-weight="normal">12</text>
<text x="1208.6" y="810" fill="#131722" font-size="12" text-anchor="middle" font-weight="normal">19</text>
<text x="1292.9" y="810" fill="#131722" font-size="12" text-anchor="middle" font-weight="normal">26</text>
<text x="1377.2" y="810" fill="#131722" font-size="12" text-anchor="middle" font-weight="normal">Май</text>
<text x="1461.5" y="810" fill="#131722" font-size="12" text-anchor="middle" font-weight="normal">10</text>
<rect x="969" y="792.5" width="74" height="22.5" rx="2" fill="#131722"/>
<text x="977.6" y="810.5" fill="#fff" font-size="12" font-weight="bold" textLength="55" lengthAdjust="spacingAndGlyphs">31 Мар '21</text>
<line x1="1006.4" y1="793" x2="1006.4" y2="797" stroke="#fff" stroke-width="1"/>
<g transform="translate(1512.5,806.5)" stroke="#131722" stroke-width="1.4" fill="none"><circle r="5.5"/><line x1="0" y1="-6" x2="0" y2="-8" transform="rotate(0)"/><line x1="0" y1="-6" x2="0" y2="-8" transform="rotate(45)"/><line x1="0" y1="-6" x2="0" y2="-8" transform="rotate(90)"/><line x1="0" y1="-6" x2="0" y2="-8" transform="rotate(135)"/><line x1="0" y1="-6" x2="0" y2="-8" transform="rotate(180)"/><line x1="0" y1="-6" x2="0" y2="-8" transform="rotate(225)"/><line x1="0" y1="-6" x2="0" y2="-8" transform="rotate(270)"/><line x1="0" y1="-6" x2="0" y2="-8" transform="rotate(315)"/></g>
<rect x="0" y="8" width="275" height="24" fill="rgba(255,255,255,0.75)"/>
<text x="3.3" y="26" fill="#131722" font-size="15.5" text-anchor="start" font-weight="normal" textLength="265" lengthAdjust="spacingAndGlyphs">CFD на нефть марки Brent · 1Д · TVC</text>
<path d="M293 11 H304 V29 H293 A9 9 0 0 1 293 11 Z" fill="#d7eeeb"/><path d="M304 11 H315 A9 9 0 0 1 315 29 H304 Z" fill="#f9c2d5"/>
<circle cx="294.5" cy="20" r="4.3" fill="#089981"/>
<text x="313.5" y="25" fill="#e91e63" font-size="15" text-anchor="middle" font-weight="bold">≈</text>
<text x="339.7" y="26" fill="#5d606b" font-size="13" text-anchor="start" font-weight="normal" textLength="32.7" lengthAdjust="spacingAndGlyphs">ОТКР</text>
<text x="373.7" y="26" fill="#f04a4a" font-size="13" text-anchor="start" font-weight="normal" textLength="31.0" lengthAdjust="spacingAndGlyphs">63.94</text>
<text x="411.2" y="26" fill="#5d606b" font-size="13" text-anchor="start" font-weight="normal" textLength="32.0" lengthAdjust="spacingAndGlyphs">МАКС</text>
<text x="444.8" y="26" fill="#f04a4a" font-size="13" text-anchor="start" font-weight="normal" textLength="32.0" lengthAdjust="spacingAndGlyphs">64.80</text>
<text x="483" y="26" fill="#5d606b" font-size="13" text-anchor="start" font-weight="normal" textLength="27" lengthAdjust="spacingAndGlyphs">МИН</text>
<text x="511" y="26" fill="#f04a4a" font-size="13" text-anchor="start" font-weight="normal" textLength="31.7" lengthAdjust="spacingAndGlyphs">62.56</text>
<text x="549.3" y="26" fill="#5d606b" font-size="13" text-anchor="start" font-weight="normal" textLength="29.3" lengthAdjust="spacingAndGlyphs">ЗАКР</text>
<text x="579.6" y="26" fill="#f04a4a" font-size="13" text-anchor="start" font-weight="normal" textLength="31.7" lengthAdjust="spacingAndGlyphs">63.02</text>
<text x="617.8" y="26" fill="#f04a4a" font-size="13" text-anchor="start" font-weight="normal" textLength="31.6" lengthAdjust="spacingAndGlyphs">−0.94</text>
<text x="654.7" y="26" fill="#f04a4a" font-size="13" text-anchor="start" font-weight="normal" textLength="47.9" lengthAdjust="spacingAndGlyphs">(−1.47%)</text>
<rect x="0" y="35" width="124" height="26" fill="rgba(255,255,255,0.75)"/>
<rect x="2.5" y="36.5" width="46.5" height="22.5" rx="4" fill="#fff" stroke="#f23645" stroke-width="1"/>
<text x="9.9" y="52.9" fill="#f23645" font-size="13" text-anchor="start" font-weight="normal" textLength="31.9" lengthAdjust="spacingAndGlyphs">67.53</text>
<text x="58.3" y="51.7" fill="#50535e" font-size="12" text-anchor="start" font-weight="normal" textLength="5.2" lengthAdjust="spacingAndGlyphs">4</text>
<rect x="72.5" y="36.5" width="47" height="22.5" rx="4" fill="#fff" stroke="#2196f3" stroke-width="1"/>
<text x="79.9" y="52.9" fill="#2196f3" font-size="13" text-anchor="start" font-weight="normal" textLength="31.7" lengthAdjust="spacingAndGlyphs">67.57</text>
<rect x="0" y="67" width="133" height="20" fill="rgba(255,255,255,0.75)"/>
<text x="3.1" y="81" fill="#50535e" font-size="13" text-anchor="start" font-weight="normal" textLength="85.7" lengthAdjust="spacingAndGlyphs">EMA 55 close 0</text>
<text x="96.6" y="81" fill="#673ab7" font-size="13" text-anchor="start" font-weight="normal" textLength="31.4" lengthAdjust="spacingAndGlyphs">61.82</text>
<rect x="0" y="91" width="315" height="20" fill="rgba(255,255,255,0.75)"/>
<text x="3.1" y="105" fill="#50535e" font-size="13" text-anchor="start" font-weight="normal" textLength="114.9" lengthAdjust="spacingAndGlyphs">Ichimoku 9 26 52 26</text>
<text x="127" y="105" fill="#2196f3" font-size="13" text-anchor="start" font-weight="normal" textLength="31.5" lengthAdjust="spacingAndGlyphs">62.88</text>
<text x="165" y="105" fill="#9c2a2a" font-size="13" text-anchor="start" font-weight="normal" textLength="31.5" lengthAdjust="spacingAndGlyphs">65.83</text>
<text x="203" y="105" fill="#43a047" font-size="13" text-anchor="start" font-weight="normal" textLength="31.5" lengthAdjust="spacingAndGlyphs">67.53</text>
<text x="241" y="105" fill="#4caf50" font-size="13" text-anchor="start" font-weight="normal" textLength="31.5" lengthAdjust="spacingAndGlyphs">62.36</text>
<text x="279" y="105" fill="#f44336" font-size="13" text-anchor="start" font-weight="normal" textLength="31.5" lengthAdjust="spacingAndGlyphs">58.24</text>
<rect x="0" y="115" width="44" height="20" fill="rgba(255,255,255,0.85)"/>
<text x="3.1" y="129" fill="#50535e" font-size="13" text-anchor="start" font-weight="normal" textLength="39.2" lengthAdjust="spacingAndGlyphs">Объём</text>
<circle cx="66.8" cy="124" r="8.6" fill="#fde3e3"/>
<text x="66.8" y="129" fill="#f23645" font-size="13" text-anchor="middle" font-weight="bold">!</text>
<rect x="3.5" y="138.5" width="28" height="20" rx="3" fill="#fff" stroke="#e0e3eb"/>
<path d="M13.5 150.5 L17.5 146.5 L21.5 150.5" fill="none" stroke="#131722" stroke-width="1.5"/>
<rect x="1427.5" y="10.5" width="20" height="20" rx="3" fill="#fff" stroke="#e0e3eb"/>
<path d="M1437.5 15.5 V25 M1433.8 21.5 L1437.5 25.2 L1441.2 21.5" fill="none" stroke="#131722" stroke-width="1.3"/>
<rect x="1452.5" y="10.5" width="20" height="20" rx="3" fill="#fff" stroke="#e0e3eb"/>
<path d="M1457 18 V16.5 Q1457 15 1458.5 15 H1466.5 Q1468 15 1468 16.5 V18 M1457 23 V24.5 Q1457 26 1458.5 26 H1466.5 Q1468 26 1468 24.5 V23" fill="none" stroke="#131722" stroke-width="1.4"/>
<rect x="1498.5" y="10.5" width="28" height="20" rx="3" fill="#fff" stroke="#e0e3eb"/>
<text x="1512.5" y="24.5" fill="#131722" font-size="11.5" text-anchor="middle">USD</text>
<text x="10.8" y="845.5" fill="#131722" font-size="14" textLength="14.7" lengthAdjust="spacingAndGlyphs">1д</text>
<text x="39.8" y="845.5" fill="#131722" font-size="14" textLength="15.0" lengthAdjust="spacingAndGlyphs">5д</text>
<text x="69.2" y="845.5" fill="#131722" font-size="14" textLength="31.3" lengthAdjust="spacingAndGlyphs">1мес</text>
<text x="114.2" y="845.5" fill="#131722" font-size="14" textLength="31.7" lengthAdjust="spacingAndGlyphs">3мес</text>
<text x="160" y="845.5" fill="#131722" font-size="14" textLength="31.6" lengthAdjust="spacingAndGlyphs">6мес</text>
<text x="205.6" y="845.5" fill="#131722" font-size="14" textLength="24.4" lengthAdjust="spacingAndGlyphs">YTD</text>
<text x="244.8" y="845.5" fill="#131722" font-size="14" textLength="12.1" lengthAdjust="spacingAndGlyphs">1г</text>
<text x="271.5" y="845.5" fill="#131722" font-size="14" textLength="14.7" lengthAdjust="spacingAndGlyphs">5л</text>
<text x="300.3" y="845.5" fill="#131722" font-size="14" textLength="23.5" lengthAdjust="spacingAndGlyphs">Все</text>
<line x1="339.5" y1="829" x2="339.5" y2="850" stroke="#e0e3eb" stroke-width="1"/>
<path d="M357 834.5 H372 V846.5 H361 M357 834.5 V839 M357 838.5 H372 M360 832 V836 M369 832 V836 M356 843 H364 M361.5 840.5 L364 843 L361.5 845.5" fill="none" stroke="#131722" stroke-width="1.2"/>
<text x="1302.2" y="846" fill="#131722" font-size="14" textLength="107.3" lengthAdjust="spacingAndGlyphs">08:38:38 (UTC+3)</text>
<line x1="1426.5" y1="829" x2="1426.5" y2="850" stroke="#e0e3eb" stroke-width="1"/>
<text x="1443" y="846" fill="#131722" font-size="15">%</text>
<text x="1470" y="846" fill="#131722" font-size="14">лог</text>
<text x="1506" y="846" fill="#131722" font-size="14">авто</text>
<text x="3.5" y="539.8" fill="#50535e" font-size="12.7" textLength="67.3" lengthAdjust="spacingAndGlyphs">RSI 14 close</text>
<text x="80" y="539.8" fill="#9c27b0" font-size="12.7" textLength="31" lengthAdjust="spacingAndGlyphs">46.94</text>
<circle cx="17" cy="768.5" r="15.5" fill="#fff" stroke="#e0e3eb"/>
<path d="M7 772 Q10 764 13 767 Q16 770 19 764 Q22 760 27 770 Z" fill="#2196f3"/><path d="M7 773 H27" stroke="#2196f3" stroke-width="1.5"/>
</svg>
</div></body></html>
